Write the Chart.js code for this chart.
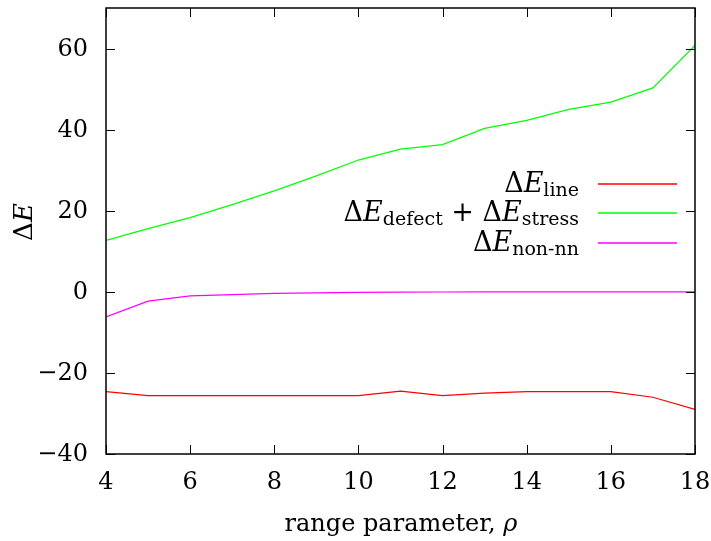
<!DOCTYPE html>
<html>
<head>
<meta charset="utf-8">
<script src="https://cdn.jsdelivr.net/npm/chart.js@4"></script>
<style>
  html, body { margin: 0; padding: 0; background: #fff; }
  #wrap { width: 711px; height: 541px; }
</style>
</head>
<body>
<div id="wrap"><canvas id="grafico" width="711" height="541"></canvas></div>
<script>
// datos
const rho = [4, 5, 6, 7, 8, 9, 10, 11, 12, 13, 14, 15, 16, 17, 18];
const eLine = [-24.6, -25.6, -25.6, -25.6, -25.6, -25.6, -25.6, -24.5, -25.6, -25.0, -24.6, -24.6, -24.6, -26.0, -29.0];
const eDefectStress = [12.7, 15.6, 18.3, 21.5, 24.9, 28.6, 32.5, 35.2, 36.3, 40.3, 42.3, 45.0, 46.8, 50.3, 60.8];
const eNonNN = [-6.2, -2.3, -1.0, -0.7, -0.4, -0.25, -0.15, -0.1, -0.05, 0, 0, 0, 0, 0, 0];

const xTicks = [4, 6, 8, 10, 12, 14, 16, 18];
const yTicks = [-40, -20, 0, 20, 40, 60];

// partes de la leyenda: n = normal, i = italica, s = subindice
const legendItems = [
  { parts: [['Δ', 'n'], ['E', 'i'], ['line', 's']], color: '#ff0000' },
  { parts: [['Δ', 'n'], ['E', 'i'], ['defect', 's'], [' + ', 'n'], ['Δ', 'n'], ['E', 'i'], ['stress', 's']], color: '#00ff00' },
  { parts: [['Δ', 'n'], ['E', 'i'], ['non-nn', 's']], color: '#ff00ff' }
];

const SERIF = '"DejaVu Serif", "Liberation Serif", serif';

function mkPts(ys) {
  return rho.map((x, i) => ({ x: x, y: ys[i] }));
}

function fmtNum(v) {
  return v < 0 ? '\u2212' + Math.abs(v) : String(v);
}

// escribe texto con partes de distinto estilo
function drawParts(ctx, parts, right, base, fonts) {
  let w = 0;
  parts.forEach(p => { ctx.font = fonts[p[1]]; w += ctx.measureText(p[0]).width; });
  let x = right - w;
  parts.forEach(p => {
    ctx.font = fonts[p[1]];
    ctx.fillText(p[0], x, base + (p[1] === 's' ? 4 : 0));
    x += ctx.measureText(p[0]).width;
  });
}

// marco, marcas hacia adentro y etiquetas (estilo gnuplot)
const marcoPlugin = {
  id: 'marco',
  afterDatasetsDraw(chart) {
    const { ctx, chartArea: a, scales } = chart;
    ctx.save();
    ctx.strokeStyle = '#000';
    ctx.lineWidth = 1.5;
    ctx.strokeRect(a.left, a.top, a.right - a.left, a.bottom - a.top);
    ctx.lineWidth = 1;
    const L = 9;
    ctx.beginPath();
    xTicks.forEach(v => {
      const px = Math.round(scales.x.getPixelForValue(v)) + 0.5;
      ctx.moveTo(px, a.bottom); ctx.lineTo(px, a.bottom - L);
      ctx.moveTo(px, a.top); ctx.lineTo(px, a.top + L);
    });
    yTicks.forEach(v => {
      const py = Math.round(scales.y.getPixelForValue(v)) + 0.5;
      ctx.moveTo(a.left, py); ctx.lineTo(a.left + L, py);
      ctx.moveTo(a.right, py); ctx.lineTo(a.right - L, py);
    });
    ctx.stroke();

    ctx.fillStyle = '#000';
    ctx.font = '24px ' + SERIF;
    ctx.textBaseline = 'middle';
    ctx.textAlign = 'center';
    xTicks.forEach(v => ctx.fillText(fmtNum(v), scales.x.getPixelForValue(v), a.bottom + 29));
    ctx.textAlign = 'right';
    yTicks.forEach(v => ctx.fillText(fmtNum(v), a.left - 18, scales.y.getPixelForValue(v) + 1));
    ctx.restore();
  }
};

// leyenda y titulos de ejes
const leyendaPlugin = {
  id: 'leyenda',
  afterDraw(chart) {
    const { ctx } = chart;
    const textRight = 579;
    const sampleL = 598, sampleR = 677;
    const rows = [184, 213, 243];
    const fonts = {
      n: '27px ' + SERIF,
      i: 'italic 27px ' + SERIF,
      s: '19px ' + SERIF
    };
    ctx.save();
    ctx.textBaseline = 'alphabetic';
    ctx.textAlign = 'left';
    legendItems.forEach((it, i) => {
      ctx.fillStyle = '#000';
      drawParts(ctx, it.parts, textRight, rows[i] + 8, fonts);
      ctx.strokeStyle = it.color;
      ctx.lineWidth = 1.5;
      ctx.beginPath();
      ctx.moveTo(sampleL, rows[i]);
      ctx.lineTo(sampleR, rows[i]);
      ctx.stroke();
    });
    ctx.restore();

    // titulo del eje y
    ctx.save();
    ctx.fillStyle = '#000';
    ctx.textBaseline = 'alphabetic';
    ctx.translate(32, 222);
    ctx.rotate(-Math.PI / 2);
    ctx.font = '26px ' + SERIF;
    const wD = ctx.measureText('Δ').width;
    ctx.font = 'italic 26px ' + SERIF;
    const wE = ctx.measureText('E').width;
    drawParts(ctx, [['Δ', 'n'], ['E', 'i']], (wD + wE) / 2, 0,
      { n: '26px ' + SERIF, i: 'italic 26px ' + SERIF });
    ctx.restore();

    // titulo del eje x
    ctx.save();
    ctx.fillStyle = '#000';
    ctx.textBaseline = 'alphabetic';
    const tf = { n: '24px ' + SERIF, i: 'italic 24px ' + SERIF };
    ctx.font = tf.n;
    const w1 = ctx.measureText('range parameter, ').width;
    ctx.font = tf.i;
    const w2 = ctx.measureText('ρ').width;
    drawParts(ctx, [['range parameter, ', 'n'], ['ρ', 'i']], 401 + (w1 + w2) / 2, 531, tf);
    ctx.restore();
  }
};

const ctx = document.getElementById('grafico').getContext('2d');
new Chart(ctx, {
  type: 'line',
  plugins: [marcoPlugin, leyendaPlugin],
  data: {
    datasets: [
      { label: 'line', data: mkPts(eLine), borderColor: '#ff0000', borderWidth: 1.2, pointRadius: 0, tension: 0 },
      { label: 'defect+stress', data: mkPts(eDefectStress), borderColor: '#00ff00', borderWidth: 1.2, pointRadius: 0, tension: 0 },
      { label: 'non-nn', data: mkPts(eNonNN), borderColor: '#ff00ff', borderWidth: 1.2, pointRadius: 0, tension: 0 }
    ]
  },
  options: {
    responsive: false,
    animation: false,
    events: [],
    layout: { padding: { top: 8, right: 16, left: 0, bottom: 0 } },
    plugins: { legend: { display: false }, tooltip: { enabled: false } },
    scales: {
      x: {
        type: 'linear',
        min: 4, max: 18,
        grid: { display: false, drawTicks: false },
        border: { display: false },
        ticks: { display: false },
        afterBuildTicks: s => { s.ticks = xTicks.map(v => ({ value: v })); },
        afterFit: s => { s.height = 87; }
      },
      y: {
        type: 'linear',
        min: -40, max: 70,
        grid: { display: false, drawTicks: false },
        border: { display: false },
        ticks: { display: false },
        afterBuildTicks: s => { s.ticks = yTicks.map(v => ({ value: v })); },
        afterFit: s => { s.width = 106; }
      }
    }
  }
});
</script>
</body>
</html>
